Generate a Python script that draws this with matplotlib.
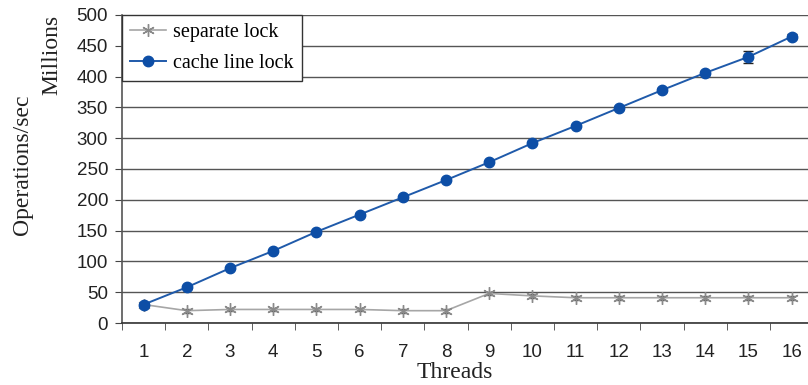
import matplotlib
matplotlib.use("Agg")
import matplotlib.pyplot as plt
from matplotlib.lines import Line2D
import numpy as np

threads = list(range(1, 17))
separate_lock = [30, 20, 22, 22, 22, 22, 20, 20, 48, 44, 41, 41, 41, 41, 41, 41]
separate_err = [2, 3, 3, 3, 3, 3, 3, 3, 3, 3, 3, 3, 3, 3, 3, 3]
cache_line_lock = [30, 58, 89, 117, 148, 176, 204, 232, 261, 292, 320, 349, 378, 406, 432, 465]
cache_err = [2, 2, 2, 2, 2, 2, 2, 2, 2, 2, 2, 3, 3, 3, 10, 4]
yticks = list(range(0, 501, 50))

fig = plt.figure(figsize=(8.08, 3.85), dpi=100)
W, H = 808, 385
ax = fig.add_axes([122 / W, (H - 323) / H, 16 * 43.2 / W, 308 / H])

x = np.arange(1, 17)
ast = (6, 2, 0)
gray_kw = dict(color="#a6a6a6", lw=1.2, marker=ast, ms=9, mfc="#a6a6a6", mec="#8a8a8a")
blue_kw = dict(color="#1f5aaa", lw=1.4, marker="o", ms=7.5, mfc="#0d4ea6", mec="#0d4ea6")
ax.errorbar(x, separate_lock, yerr=separate_err, ecolor="#555555",
            elinewidth=1, capsize=3, zorder=3, **gray_kw)
ax.errorbar(x, cache_line_lock, yerr=cache_err, ecolor="#222222",
            elinewidth=1, capsize=3.5, zorder=4, **blue_kw)

ax.set_xlim(0.5, 16.5)
ax.set_ylim(0, 500)
ax.set_yticks(yticks)
ax.set_xticks(x)
ax.set_xticklabels([str(t) for t in threads])
ax.set_xticks(np.arange(0.5, 16.6, 1), minor=True)
ax.tick_params(axis="x", which="major", length=0, pad=15, labelsize=13.5)
ax.tick_params(axis="x", which="minor", length=5, color="#444444", direction="out")
ax.tick_params(axis="y", length=5, color="#444444", labelsize=13.5, pad=5)
for lab in ax.get_xticklabels() + ax.get_yticklabels():
    lab.set_fontfamily("Liberation Sans")
    lab.set_color("#222222")

ax.grid(axis="y", color="#555555", lw=1.0)
ax.set_axisbelow(True)
for s in ["top", "right"]:
    ax.spines[s].set_visible(False)
ax.spines["left"].set_color("#555555")
ax.spines["bottom"].set_color("#333333")
ax.spines["left"].set_linewidth(1.2)
ax.spines["bottom"].set_linewidth(1.2)

fig.text(455 / W, 1 - 373 / H, "Threads", ha="center", va="center",
         fontsize=17, family="Liberation Serif", color="#222222")
fig.text(22 / W, 1 - 165 / H, "Operations/sec", ha="center", va="center",
         rotation=90, fontsize=17, family="Liberation Serif", color="#222222")
fig.text(52 / W, 1 - 55 / H, "Millions", ha="center", va="center",
         rotation=90, fontsize=17, family="Liberation Serif", color="#222222")

handles = [Line2D([], [], **gray_kw), Line2D([], [], **blue_kw)]
leg = ax.legend(handles, ["separate lock", "cache line lock"], loc="upper left",
                bbox_to_anchor=(0.0, 1.0), frameon=True,
                fancybox=False, borderaxespad=0, prop={"family": "Liberation Serif", "size": 14.5},
                handlelength=1.8, borderpad=0.4, labelspacing=0.6, handletextpad=0.35)
leg.get_frame().set_edgecolor("#333333")
leg.get_frame().set_linewidth(1.0)
leg.get_frame().set_alpha(1)

fig.savefig("out.png", dpi=100)
